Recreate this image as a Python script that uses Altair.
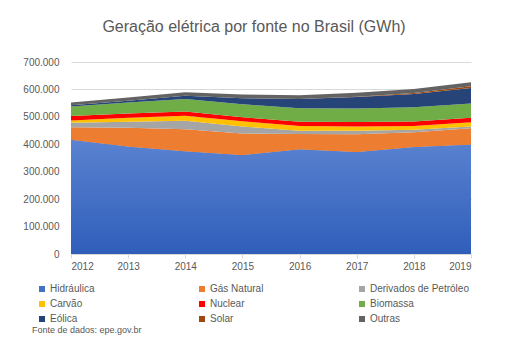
import altair as alt
import pandas as pd

years = [2012, 2013, 2014, 2015, 2016, 2017, 2018, 2019]
sources = ["Hidráulica", "Gás Natural", "Derivados de Petróleo", "Carvão",
           "Nuclear", "Biomassa", "Eólica", "Solar", "Outras"]
colors = ["#4472C4", "#ED7D31", "#A5A5A5", "#FFC000", "#FF0000",
          "#70AD47", "#264478", "#9E480E", "#636363"]

hidraulica = [415342, 390992, 373439, 359743, 380911, 370906, 388971, 397877]
gas_natural = [46760, 69003, 81073, 79490, 56485, 65593, 54622, 60448]
derivados = [16214, 22090, 31529, 25657, 12103, 12458, 9293, 6926]
carvao = [8422, 14801, 18385, 18856, 17001, 16257, 14204, 15327]
nuclear = [16038, 15450, 15378, 14734, 15864, 15739, 15674, 16129]
biomassa = [34662, 39679, 44987, 47394, 49236, 49385, 52267, 52111]
eolica = [5050, 6578, 12210, 21626, 33489, 42373, 48475, 55986]
solar = [0, 0, 16, 59, 85, 832, 3461, 6655]
outras = [10010, 12241, 13150, 13682, 13723, 14039, 14394, 14650]

y_ticks = [0, 100000, 200000, 300000, 400000, 500000, 600000, 700000]

series = [hidraulica, gas_natural, derivados, carvao, nuclear,
          biomassa, eolica, solar, outras]

rows = []
for i, (name, vals) in enumerate(zip(sources, series)):
    for y, v in zip(years, vals):
        rows.append({"ano": y, "fonte": name, "valor": v, "ord": i})
df = pd.DataFrame(rows)

# legend is filled column by column (3 rows): reorder so it reads row by row
n_cols = 3
legend_order = [i for c in range(n_cols) for i in range(c, len(sources), n_cols)]
leg_domain = [sources[i] for i in legend_order]
leg_range = [colors[i] for i in legend_order]

FONT = "Liberation Sans"
GREY = "#595959"

x_scale = alt.Scale(domain=[2012, 2019], nice=False)
y_scale = alt.Scale(domain=[0, 700000], nice=False)
x_axis = alt.Axis(values=years, format="d", title=None, grid=False,
                  domain=True, domainColor="#D9D9D9", ticks=True,
                  tickColor="#D9D9D9", tickSize=4, labelFontSize=10,
                  labelColor=GREY, labelFont=FONT, labelPadding=3)
y_axis = alt.Axis(values=y_ticks,
                  labelExpr="replace(format(datum.value, ','), /,/g, '.')",
                  title=None, domain=False, ticks=False, gridColor="#D9D9D9",
                  labelFontSize=10, labelColor=GREY, labelFont=FONT,
                  labelPadding=12)

areas = alt.Chart(df).mark_area(opacity=1).encode(
    x=alt.X("ano:Q", scale=x_scale, axis=x_axis),
    y=alt.Y("valor:Q", stack="zero", scale=y_scale, axis=y_axis),
    color=alt.Color("fonte:N", scale=alt.Scale(domain=leg_domain, range=leg_range),
                    legend=alt.Legend(orient="none", legendX=-34, legendY=222,
                                      columns=3, gridAlign="all", columnPadding=48,
                                      rowPadding=5, symbolType="square", symbolSize=36,
                                      symbolStrokeWidth=0, labelOffset=3,
                                      labelFontSize=10, labelColor=GREY, labelFont=FONT,
                                      title=None)),
    order=alt.Order("ord:Q", sort="ascending"),
)

# gradient shading of the bottom (hydro) band, as in the original
hydro_grad = alt.Chart(df).transform_filter(
    alt.datum.fonte == "Hidráulica"
).mark_area(
    color=alt.Gradient(gradient="linear",
                       stops=[alt.GradientStop(color="#5A82D0", offset=0),
                              alt.GradientStop(color="#2F5EBA", offset=1)],
                       x1=0, x2=0, y1=0, y2=1)
).encode(x=alt.X("ano:Q", scale=x_scale, axis=x_axis),
         y=alt.Y("valor:Q", stack=None, scale=y_scale, axis=y_axis))

note = alt.Chart(pd.DataFrame({"t": ["Fonte de dados: epe.gov.br"]})).mark_text(
    align="left", baseline="middle", fontSize=9, color=GREY, font=FONT
).encode(text="t:N", x=alt.value(-39), y=alt.value(268))

chart = alt.layer(areas, hydro_grad, note).properties(
    width=400, height=192,
    title=alt.TitleParams("Geração elétrica por fonte no Brasil (GWh)", fontSize=16,
                          font=FONT, color=GREY, fontWeight="normal",
                          anchor="middle", dx=-17, offset=22),
    autosize=alt.AutoSizeParams(type="none"),
    padding={"left": 63, "top": 54, "right": 30, "bottom": 90},
).configure_view(stroke=None)

chart.save("out.html", embed_options={"renderer": "svg", "actions": False})
